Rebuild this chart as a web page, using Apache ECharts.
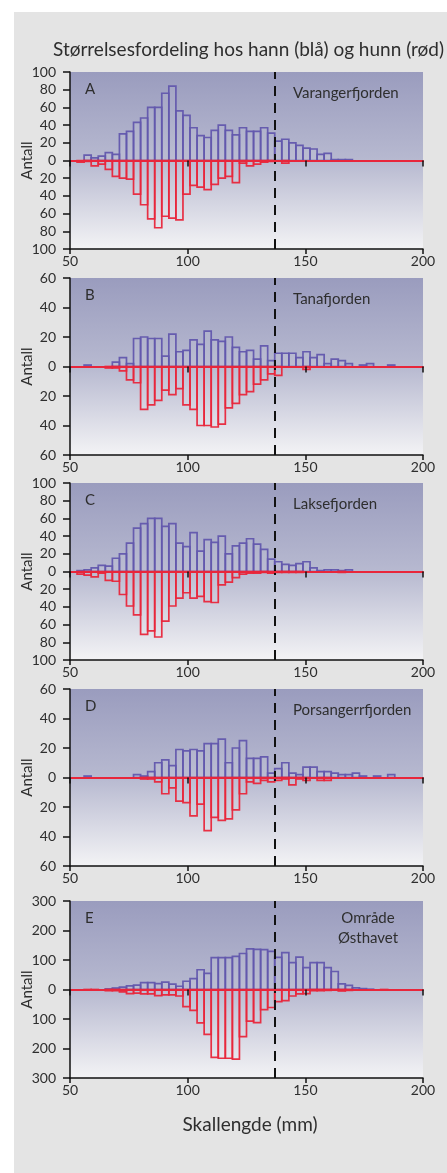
<!DOCTYPE html>
<html>
<head>
<meta charset="utf-8">
<script src="https://cdn.jsdelivr.net/npm/echarts/dist/echarts.min.js"></script>
<style>
  html, body { margin: 0; padding: 0; background: #fff; }
  #bg { position: absolute; left: 14px; top: 12px; right: 0; bottom: 0; background: #e4e4e4; }
  #chart { position: absolute; left: 0; top: 0; width: 447px; height: 1173px; }
</style>
</head>
<body>
<div id="bg"></div>
<div id="chart"></div>
<script>
// lengdeklasser (mm), 3 mm brede
var binWidth = 3
var binStarts = [53, 56, 59, 62, 65, 68, 71, 74, 77, 80, 83, 86, 89, 92, 95, 98, 101, 104, 107, 110, 113, 116, 119, 122, 125, 128, 131, 134, 137, 140, 143, 146, 149, 152, 155, 158, 161, 164, 167, 170, 173, 176, 179, 182, 185]
var cutoff = 137

// A Varangerfjorden
var maleA = [0, 6, 3, 5, 9, 7, 30, 33, 43, 48, 60, 60, 76, 84, 56, 51, 37, 28, 26, 34, 40, 34, 29, 37, 33, 33, 37, 31, 22, 24, 20, 17, 14, 13, 7, 8, 1, 1, 1, 0, 0, 0, 0, 0, 0]
var femaleA = [2, 1, 6, 4, 10, 18, 20, 21, 38, 50, 66, 76, 63, 65, 67, 38, 28, 30, 33, 27, 20, 18, 25, 3, 6, 4, 2, 1, 0, 3, 0, 0, 0, 0, 0, 0, 0, 0, 0, 0, 0, 0, 0, 0, 0]
// B Tanafjorden
var maleB = [0, 1, 0, 0, 0, 3, 6, 2, 19, 20, 19, 19, 7, 22, 10, 11, 18, 15, 24, 18, 17, 20, 13, 10, 11, 5, 14, 4, 9, 9, 9, 6, 10, 6, 8, 2, 5, 4, 2, 0, 1, 2, 0, 0, 1]
var femaleB = [0, 0, 0, 0, 1, 1, 3, 9, 11, 29, 26, 23, 16, 19, 15, 26, 29, 40, 40, 41, 39, 28, 25, 19, 17, 12, 9, 5, 6, 0, 0, 0, 2, 0, 0, 0, 0, 0, 0, 0, 0, 0, 0, 0, 0]
// C Laksefjorden
var maleC = [1, 2, 4, 7, 6, 15, 20, 32, 49, 54, 60, 60, 51, 54, 32, 28, 44, 23, 36, 33, 40, 20, 29, 32, 37, 31, 25, 14, 11, 8, 7, 9, 11, 4, 1, 2, 2, 1, 2, 0, 0, 0, 0, 0, 0]
var femaleC = [3, 4, 6, 2, 10, 11, 26, 39, 49, 71, 67, 74, 56, 39, 30, 24, 30, 28, 34, 35, 15, 12, 7, 3, 2, 2, 1, 2, 1, 1, 1, 1, 0, 0, 0, 0, 0, 1, 0, 0, 0, 0, 0, 0, 0]
// D Porsangerrfjorden
var maleD = [0, 1, 0, 0, 0, 0, 0, 0, 2, 1, 4, 10, 12, 8, 19, 18, 19, 18, 23, 23, 26, 10, 20, 25, 13, 13, 14, 3, 6, 10, 3, 2, 7, 7, 4, 4, 3, 2, 2, 3, 1, 0, 1, 0, 2]
var femaleD = [0, 0, 0, 0, 0, 0, 0, 0, 0, 1, 1, 3, 11, 7, 16, 17, 26, 18, 36, 27, 29, 28, 22, 11, 3, 4, 2, 3, 2, 1, 5, 1, 2, 0, 2, 2, 0, 0, 0, 0, 0, 0, 0, 0, 0]
// E Område Østhavet
var maleE = [0, 0, 0, 0, 2, 5, 8, 12, 15, 23, 23, 20, 25, 18, 11, 28, 37, 67, 55, 108, 108, 108, 112, 122, 138, 136, 135, 129, 109, 125, 91, 110, 74, 91, 91, 74, 61, 19, 14, 6, 3, 1, 0, 0, 0]
var femaleE = [0, 2, 2, 0, 4, 4, 8, 14, 12, 15, 15, 21, 18, 18, 22, 58, 71, 113, 152, 230, 233, 233, 236, 160, 107, 112, 68, 61, 41, 38, 22, 15, 14, 4, 4, 3, 2, 5, 3, 0, 0, 0, 0, 2, 0]

var panels = [
  { letter: 'A', place: 'Varangerfjorden', yMax: 100, yStep: 20, male: maleA, female: femaleA },
  { letter: 'B', place: 'Tanafjorden', yMax: 60, yStep: 20, male: maleB, female: femaleB },
  { letter: 'C', place: 'Laksefjorden', yMax: 100, yStep: 20, male: maleC, female: femaleC },
  { letter: 'D', place: 'Porsangerrfjorden', yMax: 60, yStep: 20, male: maleD, female: femaleD },
  { letter: 'E', place: 'Område\nØsthavet', yMax: 300, yStep: 100, male: maleE, female: femaleE }
]
var gridTops = [72, 278, 483, 689, 901]

var FONT = 'Lato, "Open Sans", sans-serif'
var BLUE = '#6257ad'
var RED = '#e8263b'
var INK = '#2e2e2e'

function toBins(values, sign) {
  var out = []
  values.forEach(function (v, i) {
    if (v) out.push([binStarts[i], binStarts[i] + binWidth, sign * v])
  })
  return out
}

function barRenderer(color) {
  return function (params, api) {
    var a = api.coord([api.value(0), 0])
    var b = api.coord([api.value(1), api.value(2)])
    return {
      type: 'rect',
      shape: { x: a[0], y: Math.min(a[1], b[1]), width: b[0] - a[0], height: Math.abs(b[1] - a[1]) },
      style: { fill: 'rgba(255,255,255,0.06)', stroke: color, lineWidth: 1.7, opacity: 0.95 }
    }
  }
}

var grids = [], xAxes = [], yAxes = [], series = [], graphics = []

panels.forEach(function (p, k) {
  var top = gridTops[k]
  grids.push({
    left: 70, width: 353, top: top, height: 177,
    show: true, borderWidth: 0,
    backgroundColor: {
      type: 'linear', x: 0, y: 0, x2: 0, y2: 1,
      colorStops: [
        { offset: 0, color: '#9a9cbe' },
        { offset: 0.5, color: '#b7b9d0' },
        { offset: 1, color: '#f3f3f5' }
      ]
    }
  })
  // bunnakse med tall
  xAxes.push({
    gridIndex: k, type: 'value', min: 50, max: 200, interval: 50, position: 'bottom',
    axisLine: { onZero: false, lineStyle: { color: '#111', width: 1.5 } },
    axisTick: { length: 5, lineStyle: { color: '#111', width: 1.5 } },
    axisLabel: { color: INK, fontSize: 14, fontFamily: FONT, margin: 5 },
    splitLine: { show: false }
  })
  // nullinje
  xAxes.push({
    gridIndex: k, type: 'value', min: 50, max: 200, interval: 50, position: 'bottom', z: 5,
    axisLine: { onZero: true, lineStyle: { color: RED, width: 2 } },
    axisTick: { length: 6, lineStyle: { color: '#111', width: 1.5 } },
    axisLabel: { show: false },
    splitLine: { show: false }
  })
  yAxes.push({
    gridIndex: k, type: 'value', min: -p.yMax, max: p.yMax, interval: p.yStep, z: 6,
    name: 'Antall', nameLocation: 'middle', nameGap: 35, nameMoveOverlap: false,
    nameTextStyle: { color: INK, fontSize: 15, fontFamily: FONT },
    axisLine: { show: true, onZero: false, lineStyle: { color: '#111', width: 1.5 } },
    axisTick: { show: true, length: 7, lineStyle: { color: '#111', width: 1.5 } },
    axisLabel: {
      color: INK, fontSize: 14, fontFamily: FONT, margin: 14,
      formatter: function (v) { return Math.abs(v) }
    },
    splitLine: { show: false }
  })
  series.push({
    type: 'custom', xAxisIndex: 2 * k, yAxisIndex: k,
    renderItem: barRenderer(BLUE), encode: { x: [0, 1], y: 2 },
    data: toBins(p.male, 1), silent: true
  })
  series.push({
    type: 'custom', xAxisIndex: 2 * k, yAxisIndex: k,
    renderItem: barRenderer(RED), encode: { x: [0, 1], y: 2 },
    data: toBins(p.female, -1), silent: true,
    markLine: {
      silent: true, symbol: 'none', label: { show: false },
      lineStyle: { color: '#111', type: [10, 7], width: 2 },
      data: [{ xAxis: cutoff }]
    }
  })
  graphics.push({
    type: 'text', silent: true,
    style: { x: 85, y: top + 17, text: p.letter, font: '15px ' + FONT, fill: INK, verticalAlign: 'middle' }
  })
  if (p.place.indexOf('\n') >= 0) {
    graphics.push({
      type: 'text', silent: true,
      style: { x: 368, y: top + 27, text: p.place, font: '15px ' + FONT, fill: INK, align: 'center', verticalAlign: 'middle', lineHeight: 20 }
    })
  } else {
    graphics.push({
      type: 'text', silent: true,
      style: { x: 293, y: top + 21, text: p.place, font: '15px ' + FONT, fill: INK, verticalAlign: 'middle' }
    })
  }
})

graphics.push({
  type: 'text', silent: true,
  style: { x: 250, y: 1125, text: 'Skallengde (mm)', font: '19px ' + FONT, fill: INK, align: 'center', verticalAlign: 'middle' }
})

var chart = echarts.init(document.getElementById('chart'))
chart.setOption({
  animation: false,
  backgroundColor: 'transparent',
  title: {
    text: 'Størrelsesfordeling hos hann (blå) og hunn (rød)',
    left: 53, top: 40, padding: 0,
    textStyle: { color: INK, fontSize: 19, fontWeight: 'normal', fontFamily: FONT }
  },
  grid: grids,
  xAxis: xAxes,
  yAxis: yAxes,
  series: series,
  graphic: graphics
})
</script>
</body>
</html>
